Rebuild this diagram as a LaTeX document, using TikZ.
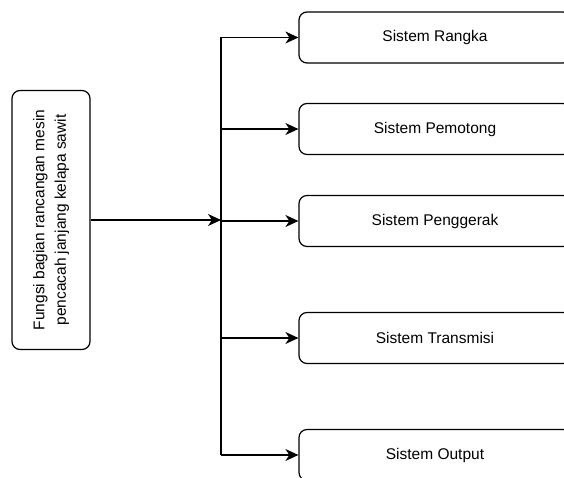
\documentclass[tikz,border=0pt]{standalone}
\usepackage{fontspec}
\setmainfont{Liberation Sans}
\usepackage{tikz}
\usetikzlibrary{arrows.meta,calc,positioning}

\begin{document}
\begin{tikzpicture}[x=1pt, y=1pt,
			box/.style={rectangle, rounded corners=8pt, draw=black, line width=1.2pt,
				fill=white, minimum width=272pt, minimum height=51pt,
				font=\fontsize{15.5}{18}\selectfont},
			fungsi/.style={box, rotate=90, minimum width=259pt, minimum height=78pt,
				align=center, font=\fontsize{15.5}{21.5}\selectfont},
			arr/.style={-{Stealth[length=13pt, width=12pt, inset=4pt]}, line width=1.2pt}]
			\clip (0,0) rectangle (564,477);
			
			% Left box
			\node[fungsi] (F) at (51,257) {Fungsi bagian rancangan mesin\\pencacah janjang kelapa sawit};
			
			% Right boxes
			\node[box] (R1) at (435,439.5) {Sistem Rangka};
			\node[box] (R2) at (435,348)   {Sistem Pemotong};
			\node[box] (R3) at (435,256)   {Sistem Penggerak};
			\node[box] (R4) at (435,139)   {Sistem Transmisi};
			\node[box] (R5) at (435,22)    {Sistem Output};
			
			% Bus
			\coordinate (top) at (221,439.5);
			\coordinate (bot) at (221,22);
			\draw[line width=1.2pt] (top) -- (bot);
			
			% Arrows
			\draw[arr] (F.south) -- (top |- F.south);
			\draw[arr] (top) -- (R1.west);
			\draw[arr] (top |- R2) -- (R2.west);
			\draw[arr] (top |- R3) -- (R3.west);
			\draw[arr] (top |- R4) -- (R4.west);
			\draw[arr] (bot) -- (R5.west);
		\end{tikzpicture}
\end{document}
